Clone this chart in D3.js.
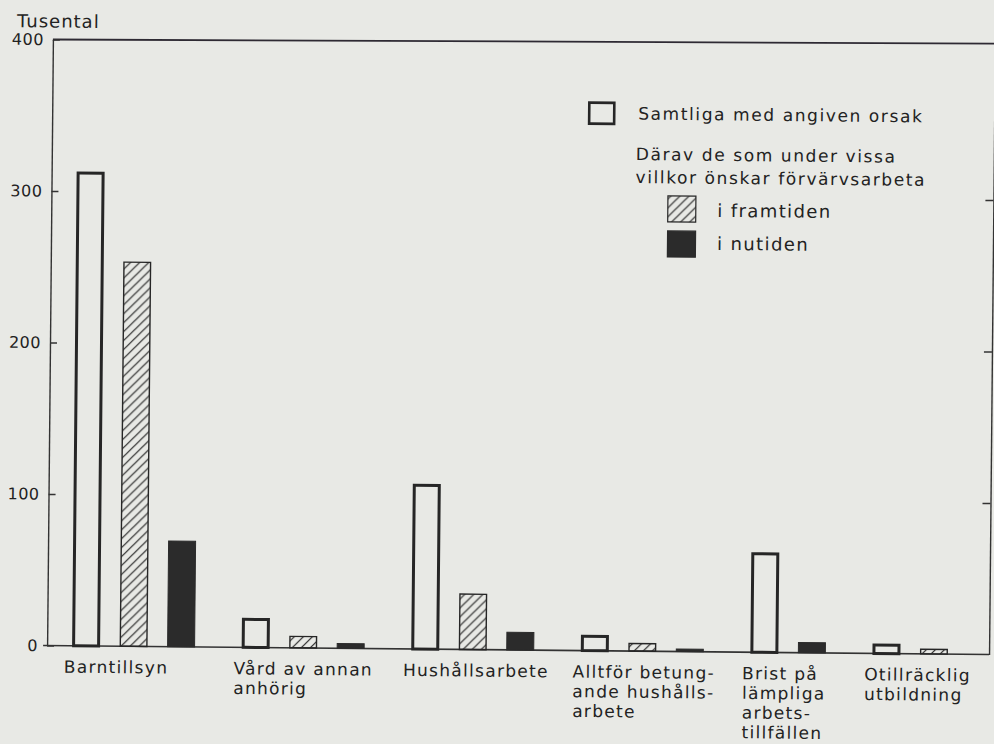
<!DOCTYPE html>
<html>
<head>
<meta charset="utf-8">
<script src="https://cdn.jsdelivr.net/npm/d3@7"></script>
<style>
  html, body { margin: 0; padding: 0; background: #e8e9e5; }
  svg { display: block; }
  text { font-family: "DejaVu Sans", sans-serif; fill: #222; }
</style>
</head>
<body>
<svg id="chart" width="994" height="744"></svg>
<script>
// Reasons for not being in the labour force (thousands)
const categories = [
  ["Barntillsyn"],
  ["Vård av annan", "anhörig"],
  ["Hushållsarbete"],
  ["Alltför betung-", "ande hushålls-", "arbete"],
  ["Brist på", "lämpliga", "arbets-", "tillfällen"],
  ["Otillräcklig", "utbildning"]
];
// All persons giving the reason
const samtliga  = [313, 19.5, 109, 10.5, 66, 6.5];
// Of whom wish to work under certain conditions: in the future
const framtiden = [254, 8, 37, 5.5, null, 3.5];
// ... and now
const nutiden   = [70, 3.5, 12, 2, 7, null];

const yTickValues = [0, 100, 200, 300, 400];
const yTitle = "Tusental";
const legendMain = "Samtliga med angiven orsak";
const legendNote = ["Därav de som under vissa", "villkor önskar förvärvsarbeta"];
const legendSub = ["i framtiden", "i nutiden"];

const W = 994, H = 744;
const ink = "#262626";

const svg = d3.select("#chart");
svg.append("rect").attr("width", W).attr("height", H).attr("fill", "#e8e9e5");

const defs = svg.append("defs");
const hatch = defs.append("pattern")
  .attr("id", "hatch")
  .attr("patternUnits", "userSpaceOnUse")
  .attr("width", 9).attr("height", 9);
hatch.append("path")
  .attr("d", "M-2,2 L2,-2 M0,9 L9,0 M7,11 L11,7")
  .attr("stroke", ink).attr("stroke-width", 1.2).attr("fill", "none");

// whole drawing sits slightly tilted on the page
const g = svg.append("g").attr("transform", "rotate(0.55,520,345)");

const left = 50, right = 992;
const y = d3.scaleLinear().domain([0, 400]).range([650, 44]);
// one unit = one bar slot
const slot = d3.scaleLinear().domain([0, 1]).range([75, 122.5]);
const barW = 28;
const groupGap = 0.57;

const seriesDefs = [
  { key: "samtliga", values: samtliga },
  { key: "framtiden", values: framtiden },
  { key: "nutiden", values: nutiden }
];

const bars = [];
const groupStart = [];
let k = 0;
categories.forEach((c, i) => {
  groupStart.push(k + i * groupGap);
  seriesDefs.forEach(s => {
    const v = s.values[i];
    if (v != null) {
      bars.push({ cat: i, key: s.key, value: v, pos: k + i * groupGap });
      k++;
    }
  });
});

// frame: top line (hand-ruled, rises a little towards the right)
g.append("line")
  .attr("x1", left).attr("x2", right)
  .attr("y1", y(400)).attr("y2", y(400) - 5)
  .attr("stroke", "#2e2a33").attr("stroke-width", 1.8);

// left axis with inward ticks
const yAxisL = d3.axisLeft(y)
  .tickValues(yTickValues)
  .tickSizeInner(-7).tickSizeOuter(0).tickPadding(9)
  .tickFormat(d3.format("d"));
const axL = g.append("g").attr("transform", `translate(${left},0)`).call(yAxisL);
axL.select(".domain").attr("stroke", "#333").attr("stroke-width", 1.4);
axL.selectAll(".tick line").attr("stroke", "#333").attr("stroke-width", 1.4);
axL.selectAll(".tick text")
  .style("font-family", '"DejaVu Sans", sans-serif')
  .style("font-size", "16px")
  .style("letter-spacing", "0.5px")
  .attr("fill", ink);

// right border with inward ticks
const yAxisR = d3.axisRight(y)
  .tickValues(yTickValues.filter(v => v > 0 && v < 400))
  .tickSizeInner(-8).tickSizeOuter(0)
  .tickFormat("");
const axR = g.append("g").attr("transform", `translate(${right},0)`).call(yAxisR);
axR.select(".domain").attr("stroke", "#333").attr("stroke-width", 1.4);
axR.selectAll(".tick line").attr("stroke", "#333").attr("stroke-width", 1.4);

// baseline
g.append("line")
  .attr("x1", left - 4).attr("x2", right)
  .attr("y1", y(0)).attr("y2", y(0))
  .attr("stroke", "#333").attr("stroke-width", 1.6);

// y title
g.append("text")
  .attr("x", 14).attr("y", 32)
  .style("font-size", "18px").style("letter-spacing", "1px")
  .text(yTitle);

// bars
const styleOf = {
  samtliga: { fill: "none", stroke: ink, sw: 3 },
  framtiden: { fill: "url(#hatch)", stroke: ink, sw: 1.4 },
  nutiden: { fill: "#2b2b2b", stroke: "#2b2b2b", sw: 1 }
};
g.append("g").selectAll("rect")
  .data(bars)
  .join("rect")
  .attr("x", d => slot(d.pos) + styleOf[d.key].sw / 2)
  .attr("width", d => barW - styleOf[d.key].sw)
  .attr("y", d => y(d.value) + styleOf[d.key].sw / 2)
  .attr("height", d => Math.max(0.5, y(0) - y(d.value) - styleOf[d.key].sw / 2))
  .attr("fill", d => styleOf[d.key].fill)
  .attr("stroke", d => styleOf[d.key].stroke)
  .attr("stroke-width", d => styleOf[d.key].sw);

// category labels, one text per line
const labelLines = [];
categories.forEach((lines, i) => {
  lines.forEach((t, j) => labelLines.push({ text: t, cat: i, line: j }));
});
g.append("g").selectAll("text")
  .data(labelLines)
  .join("text")
  .attr("x", d => slot(groupStart[d.cat]) - 8)
  .attr("y", d => 677 + d.line * 19.7)
  .style("font-size", "17px")
  .style("letter-spacing", "1.3px")
  .text(d => d.text);

// legend
const lg = g.append("g");
lg.append("rect")
  .attr("x", 587).attr("y", 102).attr("width", 25).attr("height", 21)
  .attr("fill", "none").attr("stroke", ink).attr("stroke-width", 2.6);
lg.append("text")
  .attr("x", 636).attr("y", 118.5)
  .style("font-size", "17px").style("letter-spacing", "1.6px")
  .text(legendMain);
lg.append("g").selectAll("text")
  .data(legendNote)
  .join("text")
  .attr("x", 634).attr("y", (d, i) => 159 + i * 23)
  .style("font-size", "17px").style("letter-spacing", "1.6px")
  .text(d => d);

const subFills = ["url(#hatch)", "#2b2b2b"];
const subTops = [194, 229];
lg.append("g").selectAll("rect")
  .data(legendSub)
  .join("rect")
  .attr("x", 666.5).attr("y", (d, i) => subTops[i] + 0.5)
  .attr("width", 28).attr("height", 26)
  .attr("fill", (d, i) => subFills[i])
  .attr("stroke", (d, i) => i === 0 ? ink : "#2b2b2b")
  .attr("stroke-width", 1.2);
lg.append("g").selectAll("text")
  .data(legendSub)
  .join("text")
  .attr("x", 716).attr("y", (d, i) => [215, 248][i])
  .style("font-size", "18px").style("letter-spacing", "1.4px")
  .text(d => d);
</script>
</body>
</html>
